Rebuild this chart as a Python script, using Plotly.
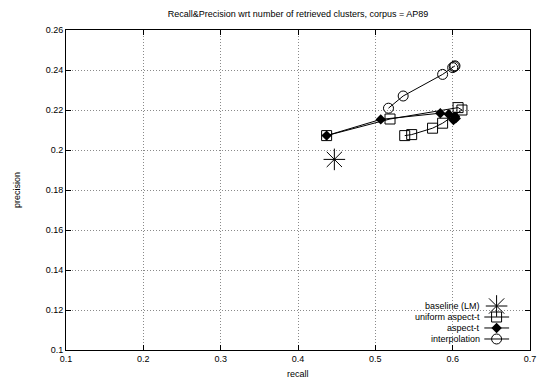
import plotly.graph_objects as go

# Data
baseline_x = [0.447]
baseline_y = [0.1953]

uniform_x = [0.437, 0.519, 0.607, 0.612, 0.587, 0.574, 0.547, 0.538]
uniform_y = [0.2072, 0.2155, 0.2212, 0.2200, 0.2134, 0.2109, 0.2077, 0.2072]

aspect_x = [0.437, 0.507, 0.584, 0.595, 0.603, 0.604, 0.601]
aspect_y = [0.2072, 0.2153, 0.2184, 0.2179, 0.2168, 0.2158, 0.2150]

interp_x = [0.517, 0.536, 0.587, 0.600, 0.602, 0.603]
interp_y = [0.2209, 0.2270, 0.2378, 0.2412, 0.2417, 0.2421]

series_names = ["baseline (LM)", "uniform aspect-t", "aspect-t", "interpolation"]

x_ticks = [0.1, 0.2, 0.3, 0.4, 0.5, 0.6, 0.7]
y_ticks = [0.1, 0.12, 0.14, 0.16, 0.18, 0.2, 0.22, 0.24, 0.26]

FONT = "Liberation Sans, Arial, sans-serif"

styles = [
    dict(mode="markers",
         marker=dict(symbol="asterisk-open", size=18, color="black",
                     line=dict(width=1, color="black"))),
    dict(mode="lines+markers", line=dict(color="black", width=1),
         marker=dict(symbol="square-open", size=10, color="black",
                     line=dict(width=1, color="black"))),
    dict(mode="lines+markers", line=dict(color="black", width=1),
         marker=dict(symbol="diamond", size=8, color="black")),
    dict(mode="lines+markers", line=dict(color="black", width=1),
         marker=dict(symbol="circle-open", size=10, color="black",
                     line=dict(width=1, color="black"))),
]

data_xy = [(baseline_x, baseline_y), (uniform_x, uniform_y),
           (aspect_x, aspect_y), (interp_x, interp_y)]

fig = go.Figure()
for (xs, ys), name, st in zip(data_xy, series_names, styles):
    fig.add_trace(go.Scatter(x=xs, y=ys, name=name, showlegend=False,
                             hoverinfo="skip", **st))

# Gnuplot-style key (text right-aligned, sample to the right), drawn on an
# overlay axis in [0,1] coordinates
key_y = [0.1375, 0.1031, 0.0688, 0.0344]
line_x0, line_x1, mark_x, text_x = 0.9015, 0.955, 0.928, 0.897
for i, (name, st) in enumerate(zip(series_names, styles)):
    if i > 0:
        fig.add_trace(go.Scatter(x=[line_x0, line_x1], y=[key_y[i], key_y[i]],
                                 mode="lines", line=dict(color="black", width=1),
                                 xaxis="x2", yaxis="y2", showlegend=False,
                                 hoverinfo="skip"))
    fig.add_trace(go.Scatter(x=[mark_x], y=[key_y[i]], mode="markers",
                             marker=st["marker"], xaxis="x2", yaxis="y2",
                             showlegend=False, hoverinfo="skip"))
    fig.add_annotation(x=text_x, y=key_y[i], xref="x2", yref="y2", text=name,
                       showarrow=False, xanchor="right", yanchor="middle",
                       font=dict(family=FONT, size=9, color="black"))

axis_common = dict(
    showline=True, linecolor="black", linewidth=1, mirror="ticks",
    ticks="inside", ticklen=5, tickcolor="black",
    showgrid=True, gridcolor="#8a8a8a", griddash="1px,2px", gridwidth=1,
    zeroline=False, tickfont=dict(family=FONT, size=9, color="black"),
    ticklabeloverflow="allow",
)

fig.update_layout(
    xaxis=dict(range=[0.1, 0.7], tickvals=x_ticks,
               ticktext=[f"{v:g}" for v in x_ticks], **axis_common),
    yaxis=dict(range=[0.1, 0.26], tickvals=y_ticks,
               ticktext=[f"{v:g}" for v in y_ticks], **axis_common),
    xaxis2=dict(range=[0, 1], overlaying="x", visible=False, fixedrange=True),
    yaxis2=dict(range=[0, 1], overlaying="y", visible=False, fixedrange=True),
    width=537, height=383,
    margin=dict(l=66, r=1, t=30, b=33),
    paper_bgcolor="white", plot_bgcolor="white",
    font=dict(family=FONT, size=9, color="black"),
    title=dict(text="Recall&Precision wrt number of retrieved clusters, corpus = AP89",
               x=0.555, xanchor="center", y=0.965, yanchor="middle",
               font=dict(family=FONT, size=9, color="black")),
    showlegend=False,
)

fig.add_annotation(x=0.5, y=0, xref="paper", yref="paper", text="recall",
                   showarrow=False, xanchor="center", yanchor="middle", yshift=-24,
                   font=dict(family=FONT, size=9, color="black"))
fig.add_annotation(x=0, y=0.5, xref="paper", yref="paper", text="precision",
                   showarrow=False, xanchor="center", yanchor="middle", xshift=-49,
                   textangle=-90, font=dict(family=FONT, size=9, color="black"))

fig.write_html("out.html", config={"displayModeBar": False},
               post_script="document.body.style.margin='0px';"
                           "document.body.style.overflow='hidden';")
